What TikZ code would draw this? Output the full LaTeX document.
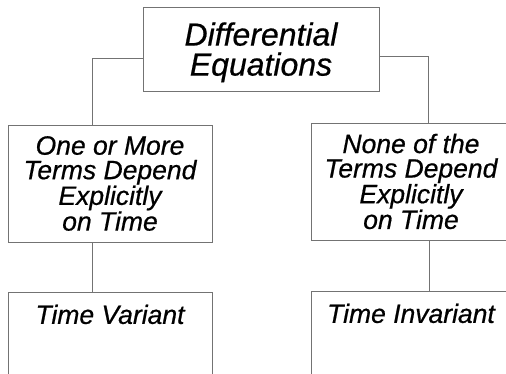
\documentclass[tikz,border=0pt]{standalone}
\usepackage{fontspec}
\setmainfont{Liberation Sans}[ItalicFeatures={FakeBold=0.6}]
\usetikzlibrary{positioning}

\begin{document}
\begin{tikzpicture}[
  x=1pt, y=-1pt,
  box/.style={draw=black!55, line width=0.9pt, inner sep=0pt, align=center},
  topBox/.style={box, minimum width=236pt, minimum height=84pt, text depth=0pt, font={\fontsize{32}{30}\selectfont\itshape}},
  midBox/.style={box, minimum width=204pt, minimum height=117pt, font={\fontsize{26.5}{24.5}\selectfont\itshape}},
  endBox/.style={box, minimum width=204pt, minimum height=90pt, text height=20pt, text depth=48pt, font={\fontsize{26.5}{26.5}\selectfont\itshape}},
  link/.style={draw=black!55, line width=0.9pt}
]
\useasboundingbox (0,0) rectangle (506,373);
\clip (0,0) rectangle (506,373);

% Root
\node[topBox] (diffEq) at (261,49) {Differential\\Equations};

% Time dependence
\node[midBox] (explicit) at (110,183.5) {One or More\\Terms Depend\\Explicitly\\on Time};
\node[midBox, minimum width=200pt] (implicit) at (411,181.5) {None of the\\Terms Depend\\Explicitly\\on Time};

% Classes
\node[endBox, below=50pt of explicit] (variant) {Time Variant};
\node[endBox, minimum width=200pt, below=51pt of implicit] (invariant) {Time Invariant};

% Connectors
\draw[link] ([yshift=-9pt]diffEq.west) -| ([xshift=-18pt]explicit.north);
\draw[link] ([yshift=-7pt]diffEq.east) -| ([xshift=17pt]implicit.north);
\draw[link] ([xshift=-18pt]explicit.south) -- ([xshift=-18pt]variant.north);
\draw[link] ([xshift=18pt]implicit.south) -- ([xshift=18pt]invariant.north);

\end{tikzpicture}
\end{document}
